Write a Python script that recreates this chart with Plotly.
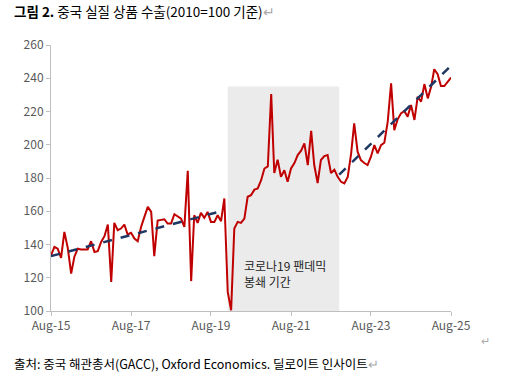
import pandas as pd
import plotly.graph_objects as go

# ---- data ----
start_month = "2015-08-01"
export_index = [
    133.5, 138.5, 137.5, 132.0, 147.6, 138.0, 122.5, 132.5, 137.5, 137.0,
    137.0, 137.0, 142.0, 135.5, 136.0, 141.5, 145.0, 152.0, 117.5, 153.0,
    148.6, 149.6, 152.0, 146.0, 147.0, 143.6, 142.0, 150.6, 156.6, 162.6,
    159.6, 133.0, 154.4, 154.6, 155.2, 152.6, 152.6, 158.2, 157.0, 155.6,
    150.6, 184.3, 118.0, 157.6, 153.0, 159.0, 156.0, 159.6, 153.6, 153.6,
    157.6, 154.0, 167.7, 111.5, 100.4, 149.6, 153.6, 153.0, 155.6, 168.7,
    169.7, 173.0, 173.7, 178.7, 185.7, 187.0, 230.5, 183.0, 191.0, 180.7,
    184.7, 177.7, 185.7, 189.0, 193.8, 196.4, 200.8, 187.8, 208.4, 187.8,
    177.0, 190.8, 193.2, 193.8, 183.0, 185.0, 180.7, 177.7, 176.7, 180.7,
    194.8, 212.8, 195.8, 190.8, 189.0, 187.8, 192.8, 199.8, 194.8, 199.8,
    201.2, 213.8, 237.0, 208.8, 215.3, 218.9, 220.3, 216.9, 223.9, 214.9,
    228.9, 225.9, 236.5, 227.9, 235.0, 245.4, 242.4, 235.3, 235.3, 238.0,
    240.4,
]
dates = pd.date_range(start_month, periods=len(export_index), freq="MS")

trend1_dates = ["2015-08-01", "2019-12-01"]
trend1_values = [133.0, 160.5]
trend2_dates = ["2022-10-15", "2025-08-01"]
trend2_values = [182.0, 247.5]

lockdown_start = "2020-01-01"
lockdown_end = "2022-10-15"
lockdown_top = 235
lockdown_label = "코로나19 팬데믹<br>봉쇄 기간"

tick_dates = ["2015-08-01", "2017-08-01", "2019-08-01", "2021-08-01", "2023-08-01", "2025-08-01"]
tick_labels = ["Aug-15", "Aug-17", "Aug-19", "Aug-21", "Aug-23", "Aug-25"]
y_ticks = [100, 120, 140, 160, 180, 200, 220, 240, 260]

title_text = "<b>그림 2.</b> 중국 실질 상품 수출(2010=100 기준)<span style='color:#AAAAAA'>↵</span>"
source_text = "출처: 중국 해관총서(GACC), Oxford Economics. 딜로이트 인사이트<span style='color:#AAAAAA'>↵</span>"

FONT = "Noto Sans CJK KR"

W, H = 525, 382
ML, MR, MT, MB = 51, 74, 45, 71

fig = go.Figure()

fig.add_shape(type="rect", xref="x", yref="y",
              x0=lockdown_start, x1=lockdown_end, y0=100, y1=lockdown_top,
              fillcolor="#EBEBEB", line=dict(width=0), layer="below")

fig.add_trace(go.Scatter(x=dates, y=export_index, mode="lines",
                         line=dict(color="#C00000", width=2),
                         showlegend=False, hoverinfo="skip"))
fig.add_trace(go.Scatter(x=trend1_dates, y=trend1_values, mode="lines",
                         line=dict(color="#1F3864", width=2.5, dash="dash"),
                         showlegend=False, hoverinfo="skip"))
fig.add_trace(go.Scatter(x=trend2_dates, y=trend2_values, mode="lines",
                         line=dict(color="#1F3864", width=2.5, dash="dash"),
                         showlegend=False, hoverinfo="skip"))

fig.add_annotation(x="2020-05-10", y=122.5, xref="x", yref="y",
                   text=lockdown_label, showarrow=False, align="left",
                   xanchor="left", yanchor="middle",
                   font=dict(family=FONT, size=12, color="#262626"))

pw, ph = W - ML - MR, H - MT - MB
def px_to_paper(xp, yp):
    return (xp - ML) / pw, (H - MB - yp) / ph

x, y = px_to_paper(12, 11)
fig.add_annotation(x=x, y=y, xref="paper", yref="paper", text=title_text,
                   showarrow=False, xanchor="left", yanchor="middle",
                   font=dict(family=FONT, size=13.5, color="#000000"))
x, y = px_to_paper(12, 363)
fig.add_annotation(x=x, y=y, xref="paper", yref="paper", text=source_text,
                   showarrow=False, xanchor="left", yanchor="middle",
                   font=dict(family=FONT, size=12.5, color="#000000"))
x, y = px_to_paper(479, 340)
fig.add_annotation(x=x, y=y, xref="paper", yref="paper", text="↵",
                   showarrow=False, xanchor="left", yanchor="middle",
                   font=dict(family=FONT, size=11, color="#AAAAAA"))

fig.update_layout(
    width=W, height=H, autosize=False,
    margin=dict(l=ML, r=MR, t=MT, b=MB),
    paper_bgcolor="white", plot_bgcolor="white",
    font=dict(family=FONT),
    xaxis=dict(type="date", range=["2015-08-01", "2025-08-01"],
               tickvals=tick_dates, ticktext=tick_labels,
               showgrid=False, zeroline=False,
               showline=True, linecolor="#BFBFBF", linewidth=1,
               ticks="outside", ticklen=4, tickcolor="#BFBFBF",
               tickfont=dict(family=FONT, size=12, color="#595959")),
    yaxis=dict(range=[100, 260], tickvals=y_ticks,
               showgrid=False, zeroline=False,
               showline=True, linecolor="#BFBFBF", linewidth=1,
               ticks="outside", ticklen=4, tickcolor="#BFBFBF",
               tickfont=dict(family=FONT, size=12, color="#595959")),
)

# remove the browser's default page margin so the figure fills the window
fig.write_html("out.html", config={"displayModeBar": False},
               post_script="document.body.style.margin='0';")
